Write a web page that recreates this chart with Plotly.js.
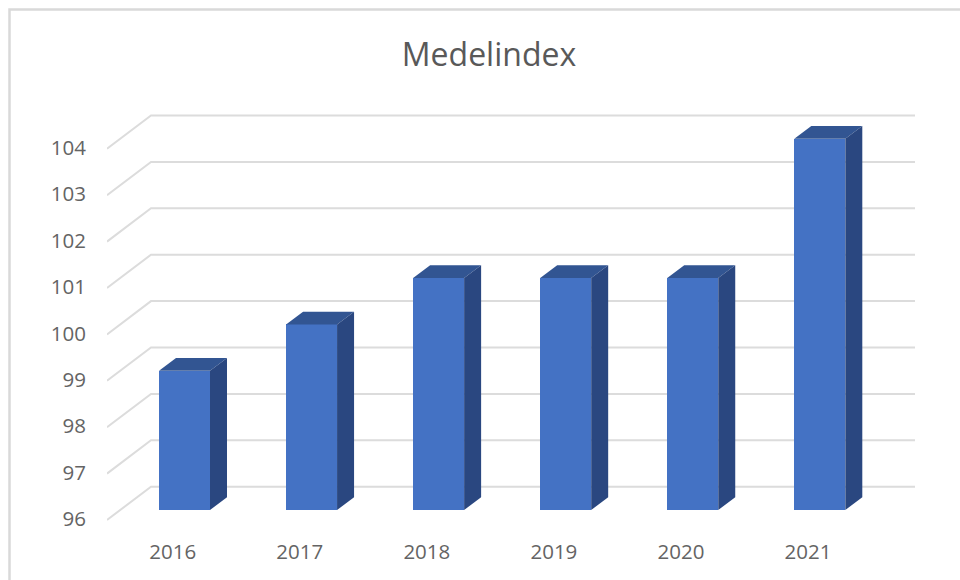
<!DOCTYPE html>
<html>
<head>
<meta charset="utf-8">
<script src="https://cdn.plot.ly/plotly-3.0.1.min.js"></script>
<style>html,body{margin:0;padding:0;background:#fff}</style>
</head>
<body>
<div id="chart" style="width:960px;height:580px"></div>
<script>
const categories = ['2016','2017','2018','2019','2020','2021'];
const values = [99,100,101,101,101,104];
const yTicks = [96,97,98,99,100,101,102,103,104];
const titleText = 'Medelindex';

// plot frame in pixels
const L=107,R=915,T=100,B=532;
const UX=127.06, UY=46.4;          // pixels per category / per index point
const rangeX=p0=>[(L-p0)/UX,(R-p0)/UX];
const rangeY=b=>[96-(B-b)/UY,96+(b-T)/UY];

const LABEL_P0=172.7, BAR_P0=184.5;   // px of the first category
const LABEL_B=519, BAR_B=510, WALL_BACK=486.7, WALL_FRONT=520;

const idx=categories.map((_,i)=>i);
const halfW=25.5/UX, dX=17/UX, dY=12.7/UY;

// receding wall gridlines, in the main (label) axes
const gx=[],gy=[];
const xOfPx=p=>(p-LABEL_P0)/UX;
yTicks.forEach(v=>{
  gx.push(xOfPx(107),xOfPx(151),xOfPx(915),null);
  const back=v+(LABEL_B-WALL_BACK)/UY, front=v+(LABEL_B-WALL_FRONT)/UY;
  gy.push(front,back,back,null);
});

// top and side faces, from the values
const tx=[],ty=[],sx=[],sy=[];
values.forEach((v,i)=>{
  tx.push(i-halfW,i+halfW,i+halfW+dX,i-halfW+dX,i-halfW,null);
  ty.push(v,v,v+dY,v+dY,v,null);
  sx.push(i+halfW,i+halfW+dX,i+halfW+dX,i+halfW,i+halfW,null);
  sy.push(96,96+dY,v+dY,v,96,null);
});

const traces=[
 {type:'scatter',mode:'lines',x:gx,y:gy,xaxis:'x',yaxis:'y',connectgaps:false,
  line:{color:'#dcdcdc',width:2},hoverinfo:'skip',showlegend:false},
 {type:'bar',x:idx,y:values.map(v=>v-96),base:96,width:2*halfW,xaxis:'x2',yaxis:'y2',
  marker:{color:'#4472C4',line:{width:0}},showlegend:false,name:titleText},
 {type:'scatter',mode:'lines',x:tx,y:ty,xaxis:'x2',yaxis:'y2',fill:'toself',fillcolor:'#325592',
  line:{width:0,color:'#325592'},hoverinfo:'skip',showlegend:false},
 {type:'scatter',mode:'lines',x:sx,y:sy,xaxis:'x2',yaxis:'y2',fill:'toself',fillcolor:'#2A4780',
  line:{width:0,color:'#2A4780'},hoverinfo:'skip',showlegend:false}
];

const tickFont={family:'"Open Sans", sans-serif',size:20.5,color:'#646464'};
const W=R-L,H=B-T;
const layout={
 width:960,height:580,autosize:false,
 margin:{l:L,r:960-R,t:T,b:580-B,pad:0},
 paper_bgcolor:'#fff',plot_bgcolor:'rgba(0,0,0,0)',
 showlegend:false,bargap:0,
 title:{text:titleText,x:489/960,y:1-55/580,xref:'container',yref:'container',xanchor:'center',yanchor:'middle',
  font:{family:'"Open Sans", sans-serif',size:32,color:'#595959'}},
 xaxis:{range:rangeX(LABEL_P0),tickmode:'array',tickvals:idx,ticktext:categories,showgrid:false,zeroline:false,showline:false,
  ticks:'outside',ticklen:1,tickcolor:'rgba(0,0,0,0)',tickfont:tickFont,fixedrange:true},
 yaxis:{range:rangeY(LABEL_B),tickmode:'array',tickvals:yTicks,ticktext:yTicks.map(String),showgrid:false,zeroline:false,showline:false,
  ticks:'outside',ticklen:16,tickcolor:'rgba(0,0,0,0)',tickfont:tickFont,fixedrange:true},
 xaxis2:{range:rangeX(BAR_P0),overlaying:'x',visible:false,fixedrange:true},
 yaxis2:{range:rangeY(BAR_B),overlaying:'y',visible:false,fixedrange:true},
 shapes:[{type:'path',xref:'paper',yref:'paper',
  path:`M ${(9.5-L)/W} ${(B-580)/H} L ${(9.5-L)/W} ${(B-9.5)/H} L ${(960-L)/W} ${(B-9.5)/H}`,
  line:{color:'#d9d9d9',width:2.5}}]
};
Plotly.newPlot('chart',traces,layout,{displayModeBar:false,staticPlot:true});
</script>
</body>
</html>
